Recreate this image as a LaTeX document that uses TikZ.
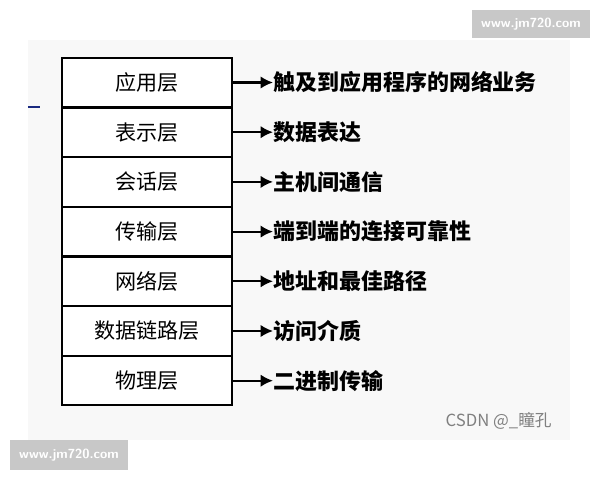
\documentclass[tikz,border=0pt]{standalone}
\usepackage{fontspec}
\newfontfamily\cjk{Noto Sans CJK SC}
\usetikzlibrary{arrows.meta}
\definecolor{markgray}{HTML}{C8C8C8}
\definecolor{pagegray}{HTML}{F8F8F8}
\definecolor{dashblue}{HTML}{1A2A80}
\tikzset{
  layer/.style={draw, line width=1.2pt, minimum width=3.4cm, minimum height=0.99cm,
    inner sep=0pt, font=\cjk\fontsize{12}{12}\selectfont},
  duty/.style={anchor=west, inner sep=0pt, font=\cjk\bfseries\fontsize{12.5}{12.5}\selectfont},
  link/.style={line width=1.2pt, -{Latex[length=7pt,width=7pt]}},
  watermark/.style={fill=markgray, text=white, inner sep=0pt, font=\sffamily\bfseries\fontsize{7.5}{7.5}\selectfont}
}
\begin{document}
\begin{tikzpicture}[x=0.02cm,y=-0.02cm]
\useasboundingbox (0,0) rectangle (600,480);
\fill[pagegray] (28,40) rectangle (570,440);
\draw[dashblue, line width=1pt] (28,107) -- (40,107);
% layers and what each one does
\foreach \i/\name/\what in {0/应用层/触及到应用程序的网络业务, 1/表示层/数据表达,
    2/会话层/主机间通信, 3/传输层/端到端的连接可靠性, 4/网络层/地址和最佳路径,
    5/数据链路层/访问介质, 6/物理层/二进制传输} {
  \node[layer, fill=white] (layer\i) at (147,{82.5+49.7*\i}) {\name};
  \node[duty] (duty\i) at (273,{82.5+49.7*\i}) {\what};
  \draw[link] (layer\i.east) -- (duty\i.west);
}
\node[anchor=east, text=gray, inner sep=0pt, font=\cjk\fontsize{9.5}{9.5}\selectfont] (csdn) at (552,421) {CSDN @\_瞳孔};
\node[watermark, minimum width=2.36cm, minimum height=0.56cm] (mark1) at (531,24) {www.jm720.com};
\node[watermark, minimum width=2.36cm, minimum height=0.6cm] (mark2) at (69,455) {www.jm720.com};
\end{tikzpicture}
\end{document}
